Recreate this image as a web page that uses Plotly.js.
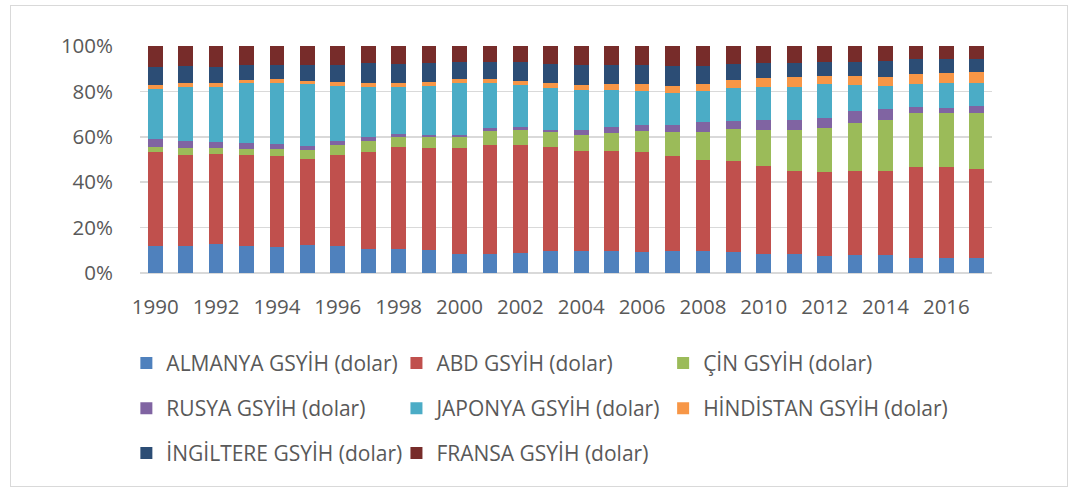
<!DOCTYPE html>
<html>
<head>
<meta charset="utf-8">
<script src="https://cdn.plot.ly/plotly-3.0.1.min.js"></script>
<style>
  html, body { margin: 0; padding: 0; background: #ffffff; }
  #chart { width: 1075px; height: 489px; position: relative; }
  #frame { position: absolute; left: 10px; top: 5px; width: 1058px; height: 482px;
           border: 1px solid #d9d9d9; pointer-events: none; box-sizing: border-box; }
</style>
</head>
<body>
<div id="chart"></div>
<div id="frame"></div>
<script>
const years = [1990,1991,1992,1993,1994,1995,1996,1997,1998,1999,2000,2001,2002,2003,2004,2005,2006,2007,2008,2009,2010,2011,2012,2013,2014,2015,2016,2017];

const almanya   = [11.8,11.8,12.8,11.8,11.6,12.5,12.1,10.7,10.7,10.0,8.5,8.5,8.7,9.6,9.7,9.6,9.3,9.6,9.7,9.3,8.5,8.5,7.6,7.8,7.8,6.8,6.8,6.8];
const abd       = [41.3,40.4,39.7,40.3,40.0,37.6,39.8,42.7,44.6,44.9,46.4,47.8,47.9,45.7,44.1,44.2,44.2,42.0,40.0,40.0,38.7,36.5,36.7,37.1,37.3,39.7,39.7,39.2];
const cin       = [2.5,2.7,2.5,2.6,3.0,4.0,4.4,4.7,4.7,5.1,5.1,6.2,6.6,6.6,7.2,8.0,9.1,10.6,12.5,14.1,16.0,17.9,19.7,21.3,22.5,24.1,23.8,24.6];
const rusya     = [3.5,3.2,2.8,2.4,2.2,1.8,1.9,1.9,1.2,1.0,1.0,1.2,1.2,1.3,1.9,2.3,2.8,2.9,4.4,3.5,4.0,4.7,4.5,5.1,4.5,2.6,2.6,2.9];
const japonya   = [21.8,23.7,24.0,26.4,27.0,27.2,24.2,22.1,20.6,21.5,22.8,20.1,18.4,18.4,17.7,16.5,14.7,14.0,13.5,14.7,14.6,14.5,14.6,11.5,10.4,10.0,10.6,10.0];
const hindistan = [1.9,1.7,1.7,1.5,1.5,1.5,1.6,1.7,1.7,1.8,1.6,1.6,1.9,2.2,2.2,2.6,3.0,3.4,3.1,3.4,4.2,4.1,3.8,4.0,4.0,4.4,4.7,5.2];
const ingiltere = [7.8,7.7,7.4,6.6,6.3,7.0,7.5,8.6,8.4,8.3,7.7,7.5,8.1,8.3,8.8,8.6,8.7,8.8,8.0,6.9,6.4,6.4,6.2,6.3,6.9,6.5,5.9,5.6];
const fransa    = [9.4,8.8,9.1,8.4,8.4,8.4,8.5,7.6,8.1,7.4,6.9,7.1,7.2,7.9,8.4,8.2,8.2,8.7,8.8,8.1,7.6,7.4,6.9,6.9,6.6,5.9,5.9,5.7];

const seriesNames = ["ALMANYA GSYİH (dolar)","ABD GSYİH (dolar)","ÇİN GSYİH (dolar)","RUSYA GSYİH (dolar)","JAPONYA GSYİH (dolar)","HİNDİSTAN GSYİH (dolar)","İNGİLTERE GSYİH (dolar)","FRANSA GSYİH (dolar)"];
const seriesValues = [almanya, abd, cin, rusya, japonya, hindistan, ingiltere, fransa];
const seriesColors = ["#4F81BD","#C0504D","#9BBB59","#8064A2","#4BACC6","#F79646","#2C4D75","#772C2A"];

const fontFamily = "'Open Sans', 'Liberation Sans', sans-serif";
const txtColor = "#595959";

// legend grid: 3 columns x 3 rows (one legend object per entry)
const legendCols = [-0.016, 0.301, 0.614];
const legendRowsY = [-0.398, -0.597, -0.795];

const traces = seriesNames.map((name, i) => ({
  type: "bar",
  name: name,
  x: years,
  y: seriesValues[i],
  width: 0.48,
  marker: { color: seriesColors[i], line: { width: 0 } },
  legend: i === 0 ? "legend" : "legend" + (i + 1),
  hoverinfo: "x+y+name"
}));

function legendAt(x, y) {
  return {
    orientation: "h",
    x: x, xanchor: "left",
    y: y, yanchor: "middle",
    font: { family: fontFamily, size: 21, color: txtColor },
    bgcolor: "rgba(0,0,0,0)",
    itemwidth: 30
  };
}

const layout = {
  width: 1075, height: 489,
  margin: { l: 140, r: 83, t: 46, b: 216, pad: 0 },
  paper_bgcolor: "rgba(0,0,0,0)",
  plot_bgcolor: "rgba(0,0,0,0)",
  barmode: "stack",
  barnorm: "percent",
  bargap: 0.5,
  showlegend: true,
  xaxis: {
    type: "linear",
    range: [1989.5, 2017.5],
    tick0: 1990, dtick: 2,
    showgrid: false, zeroline: false, showline: false,
    ticks: "",
    ticklabelstandoff: 19,
    tickfont: { family: fontFamily, size: 20.5, color: txtColor }
  },
  yaxis: {
    range: [0, 100],
    dtick: 20,
    ticksuffix: "%",
    showgrid: true, gridcolor: "#d9d9d9", gridwidth: 1.5,
    zeroline: true, zerolinecolor: "#d9d9d9", zerolinewidth: 1.5,
    showline: false, ticks: "",
    ticklabelstandoff: 26,
    tickfont: { family: fontFamily, size: 20.5, color: txtColor }
  },
  font: { family: fontFamily, color: txtColor }
};

seriesNames.forEach((_, i) => {
  const key = i === 0 ? "legend" : "legend" + (i + 1);
  layout[key] = legendAt(legendCols[i % 3], legendRowsY[Math.floor(i / 3)]);
});

Plotly.newPlot("chart", traces, layout, { displayModeBar: false, staticPlot: true });
</script>
</body>
</html>
